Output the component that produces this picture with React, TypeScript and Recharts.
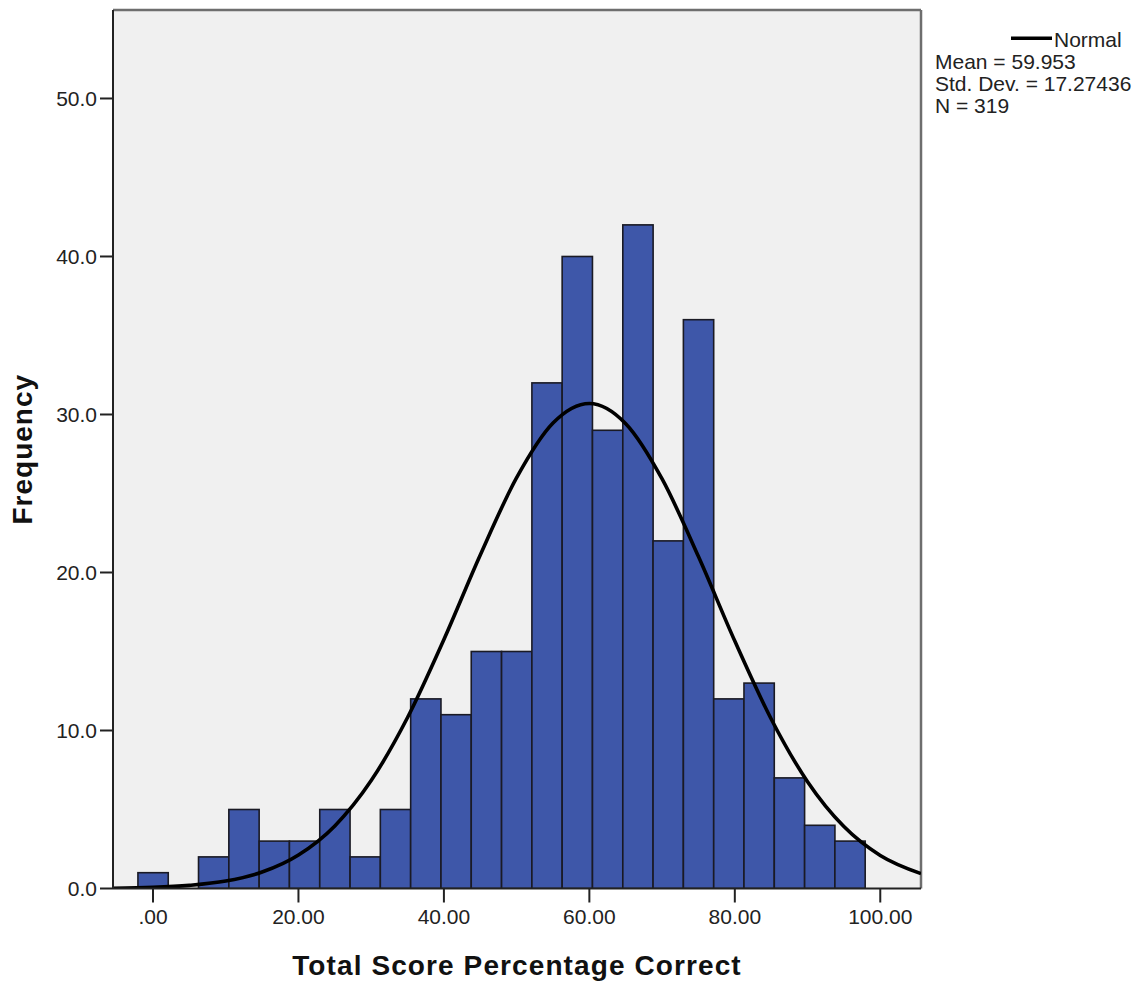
import { ComposedChart, Bar, Line, XAxis, YAxis, CartesianGrid, ReferenceLine } from "recharts";

// histogram bins (centre of each bin, percent correct) and counts
const binCenters = [0, 4.17, 8.33, 12.5, 16.67, 20.83, 25, 29.17, 33.33, 37.5, 41.67, 45.83, 50, 54.17, 58.33, 62.5, 66.67, 70.83, 75, 79.17, 83.33, 87.5, 91.67, 95.83];
const frequencies = [1, 0, 2, 5, 3, 3, 5, 2, 5, 12, 11, 15, 15, 32, 40, 29, 42, 22, 36, 12, 13, 7, 4, 3];

// normal curve
const normalX = [-5.5, 0, 5, 10, 15, 20, 25, 30, 35, 40, 45, 50, 55, 60, 65, 70, 75, 80, 85, 90, 95, 100, 105.6];
const normalY = [0.02, 0.07, 0.2, 0.47, 1.04, 2.12, 3.96, 6.83, 10.82, 15.76, 21.11, 26.0, 29.46, 30.7, 29.42, 25.92, 21.01, 15.66, 10.73, 6.76, 3.92, 2.09, 0.94];

const xTicks = [0, 20, 40, 60, 80, 100];
const xTickLabels = [".00", "20.00", "40.00", "60.00", "80.00", "100.00"];
const yTicks = [0, 10, 20, 30, 40, 50];
const yTickLabels = ["0.0", "10.0", "20.0", "30.0", "40.0", "50.0"];

const legendTitle = "Normal";
const legendLines = ["Mean = 59.953", "Std. Dev. = 17.27436", "N = 319"];

const X_DOMAIN: [number, number] = [-5.5, 105.6];
const Y_DOMAIN: [number, number] = [0, 55.6];
const BAR_W = 30.3; // one bin (4.17 points) in pixels

const FONT = '"Liberation Sans", Arial, sans-serif';

const histData = binCenters.map((c, i) => ({ x: c, count: frequencies[i] }));
const curveData = normalX.map((x, i) => ({ x, normal: normalY[i] }));

const BinRect = (p: any) => {
    if (!p.height || p.height <= 0) return <g />;
    const cx = p.x + p.width / 2;
    return (
        <rect x={cx - BAR_W / 2} y={p.y} width={BAR_W} height={p.height} fill="#3e57a9" stroke="#1a1a24" strokeWidth={1.6} />
    );
};

const XTitle = (props: any) => {
    const vb = props.viewBox;
    return (
        <text x={vb.x + vb.width / 2} y={vb.y + 86.5} textAnchor="middle" fontFamily={FONT} fontSize={28} fontWeight="bold" letterSpacing={1.1} fill="#111">
            Total Score Percentage Correct
        </text>
    );
};

const YTitle = (props: any) => {
    const vb = props.viewBox;
    const cx = vb.x + 24;
    const cy = vb.y + vb.height / 2;
    return (
        <text x={cx} y={cy} transform={`rotate(-90, ${cx}, ${cy})`} textAnchor="middle" fontFamily={FONT} fontSize={28} fontWeight="bold" letterSpacing={1} fill="#111">
            Frequency
        </text>
    );
};

export default function App() {
    const tickStyle = { fontFamily: FONT, fontSize: 21, fill: "#222" };
    return (
        <div style={{ position: "relative", width: 1137, height: 973 }}>
            <ComposedChart width={1137} height={973} data={histData} margin={{ top: 2, right: 224, bottom: 0, left: 0 }}>
                <CartesianGrid horizontal={false} vertical={false} fill="#f0f0f0" />
                <XAxis
                    type="number"
                    dataKey="x"
                    domain={X_DOMAIN}
                    ticks={xTicks}
                    allowDataOverflow
                    tickFormatter={(v: number) => xTickLabels[xTicks.indexOf(v)]}
                    tick={tickStyle}
                    tickSize={14}
                    tickMargin={7}
                    height={92.5}
                    axisLine={{ stroke: "#222", strokeWidth: 2 }}
                    tickLine={{ stroke: "#222", strokeWidth: 2 }}
                    label={{ content: XTitle }}
                />
                <YAxis
                    type="number"
                    domain={Y_DOMAIN}
                    ticks={yTicks}
                    allowDataOverflow
                    tickFormatter={(v: number) => yTickLabels[yTicks.indexOf(v)]}
                    tick={tickStyle}
                    tickSize={13}
                    tickMargin={3}
                    width={105}
                    axisLine={{ stroke: "#222", strokeWidth: 2 }}
                    tickLine={{ stroke: "#222", strokeWidth: 2 }}
                    label={{ content: YTitle }}
                />
                <ReferenceLine y={Y_DOMAIN[1]} stroke="#6e6e6e" strokeWidth={2.5} />
                <ReferenceLine x={X_DOMAIN[1]} stroke="#6e6e6e" strokeWidth={2.5} />
                <Bar dataKey="count" shape={BinRect} isAnimationActive={false} />
                <Line
                    data={curveData}
                    dataKey="normal"
                    type="monotone"
                    stroke="#000"
                    strokeWidth={3.6}
                    dot={false}
                    activeDot={false}
                    isAnimationActive={false}
                />
            </ComposedChart>
            <svg width={1137} height={140} style={{ position: "absolute", left: 0, top: 0, pointerEvents: "none" }}>
                <line x1={1003} y1={30.3} x2={1044} y2={30.3} stroke="#000" strokeWidth={3.6} />
                <text x={1046} y={38.7} fontFamily={FONT} fontSize={21} fill="#222">{legendTitle}</text>
                {legendLines.map((t, i) => (
                    <text key={t} x={927} y={61.3 + i * 22} fontFamily={FONT} fontSize={21} fill="#222">{t}</text>
                ))}
            </svg>
        </div>
    );
}
